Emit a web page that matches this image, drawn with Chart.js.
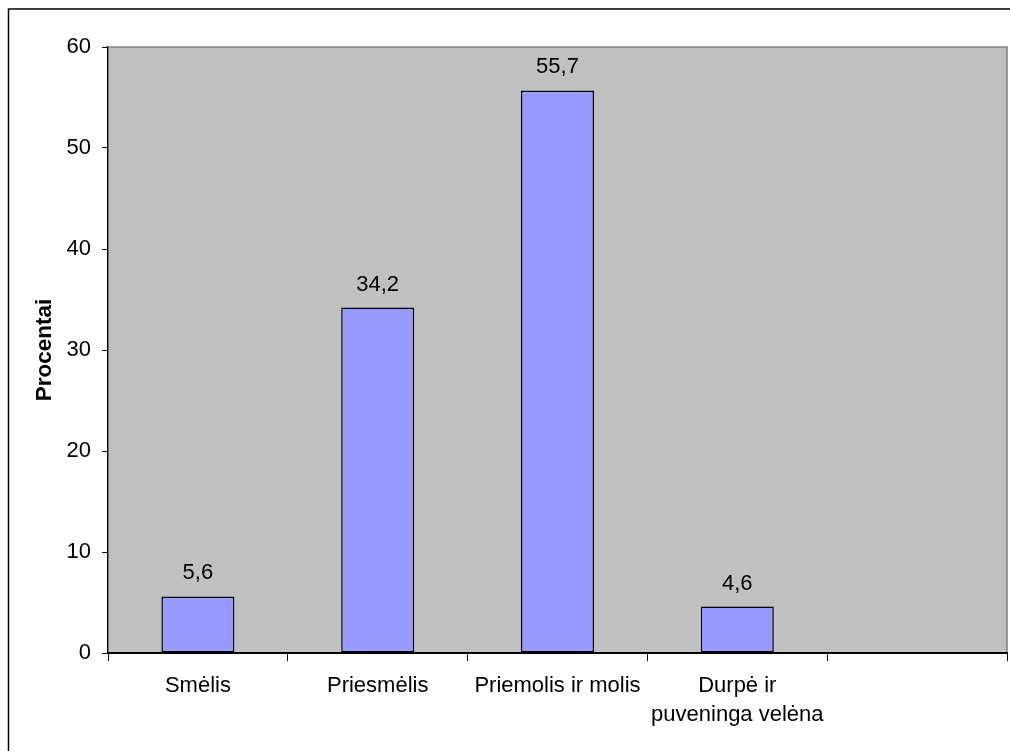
<!DOCTYPE html>
<html>
<head>
<meta charset="utf-8">
<script src="https://cdn.jsdelivr.net/npm/chart.js@4/dist/chart.umd.min.js"></script>
<style>
  html, body { margin: 0; padding: 0; background: #fff; }
  #wrap { width: 1010px; height: 751px; position: relative; }
</style>
</head>
<body>
<div id="wrap"><canvas id="c" width="1010" height="751"></canvas></div>
<script>
const categories = ['Smėlis', 'Priesmėlis', 'Priemolis ir molis', ['Durpė ir', 'puveninga velėna'], ''];
const values = [5.6, 34.2, 55.7, 4.6, null];
const yTicks = [0, 10, 20, 30, 40, 50, 60];
const yTitle = 'Procentai';

const FONT = '"Liberation Sans", Arial, sans-serif';

const framePlugin = {
  id: 'frame',
  beforeDraw(chart) {
    const ctx = chart.ctx;
    const a = chart.chartArea;
    ctx.save();
    ctx.fillStyle = '#ffffff';
    ctx.fillRect(0, 0, chart.width, chart.height);
    // outer frame (extends beyond the canvas on right and bottom)
    ctx.strokeStyle = '#000000';
    ctx.lineWidth = 1.5;
    ctx.beginPath();
    ctx.moveTo(8.5, chart.height + 2);
    ctx.lineTo(8.5, 9);
    ctx.lineTo(chart.width + 2, 9);
    ctx.stroke();
    // plot area
    ctx.fillStyle = '#C0C0C0';
    ctx.fillRect(a.left, a.top, a.right - a.left, a.bottom - a.top);
    ctx.strokeStyle = '#808080';
    ctx.lineWidth = 1.5;
    ctx.strokeRect(a.left, a.top, a.right - a.left, a.bottom - a.top);
    ctx.restore();
  },
  afterDatasetsDraw(chart) {
    const ctx = chart.ctx;
    const meta = chart.getDatasetMeta(0);
    ctx.save();
    ctx.fillStyle = '#000';
    ctx.font = '22px ' + FONT;
    ctx.textAlign = 'center';
    ctx.textBaseline = 'alphabetic';
    meta.data.forEach((el, i) => {
      const v = values[i];
      if (v === null || v === undefined) return;
      ctx.fillText(String(v).replace('.', ','), el.x, el.y - 17);
    });
    ctx.restore();
  }
};

new Chart(document.getElementById('c'), {
  type: 'bar',
  data: {
    labels: categories,
    datasets: [{
      data: values,
      backgroundColor: '#9999FF',
      borderColor: '#000000',
      borderWidth: 1.5,
      borderSkipped: false,
      barPercentage: 1,
      categoryPercentage: 0.406
    }]
  },
  options: {
    responsive: false,
    animation: false,
    devicePixelRatio: 1,
    layout: { padding: { left: 0, top: 47, right: 3, bottom: 0 } },
    plugins: {
      legend: { display: false },
      tooltip: { enabled: false },
      title: { display: false }
    },
    scales: {
      x: {
        offset: true,
        afterFit(scale) { scale.height = 98; },
        grid: {
          offset: true,
          drawOnChartArea: false,
          drawTicks: true,
          tickLength: 8,
          color: '#000000',
          lineWidth: 1
        },
        border: { display: true, color: '#000000', width: 2 },
        ticks: {
          color: '#000000',
          font: { family: FONT, size: 22, lineHeight: 1.33 },
          padding: 10,
          maxRotation: 0,
          minRotation: 0,
          autoSkip: false
        }
      },
      y: {
        min: 0,
        max: 60,
        afterFit(scale) { scale.width = 108; },
        afterBuildTicks(scale) { scale.ticks = yTicks.map(v => ({ value: v })); },
        grid: {
          drawOnChartArea: false,
          drawTicks: true,
          tickLength: 6,
          color: '#000000',
          lineWidth: 1
        },
        border: { display: true, color: '#000000', width: 1.2 },
        ticks: {
          color: '#000000',
          font: { family: FONT, size: 22 },
          padding: 11
        },
        title: {
          display: true,
          text: yTitle,
          color: '#000000',
          font: { family: FONT, size: 22.5, weight: 'bold' },
          padding: { top: 31, bottom: 0 }
        }
      }
    }
  },
  plugins: [framePlugin]
});
</script>
</body>
</html>
